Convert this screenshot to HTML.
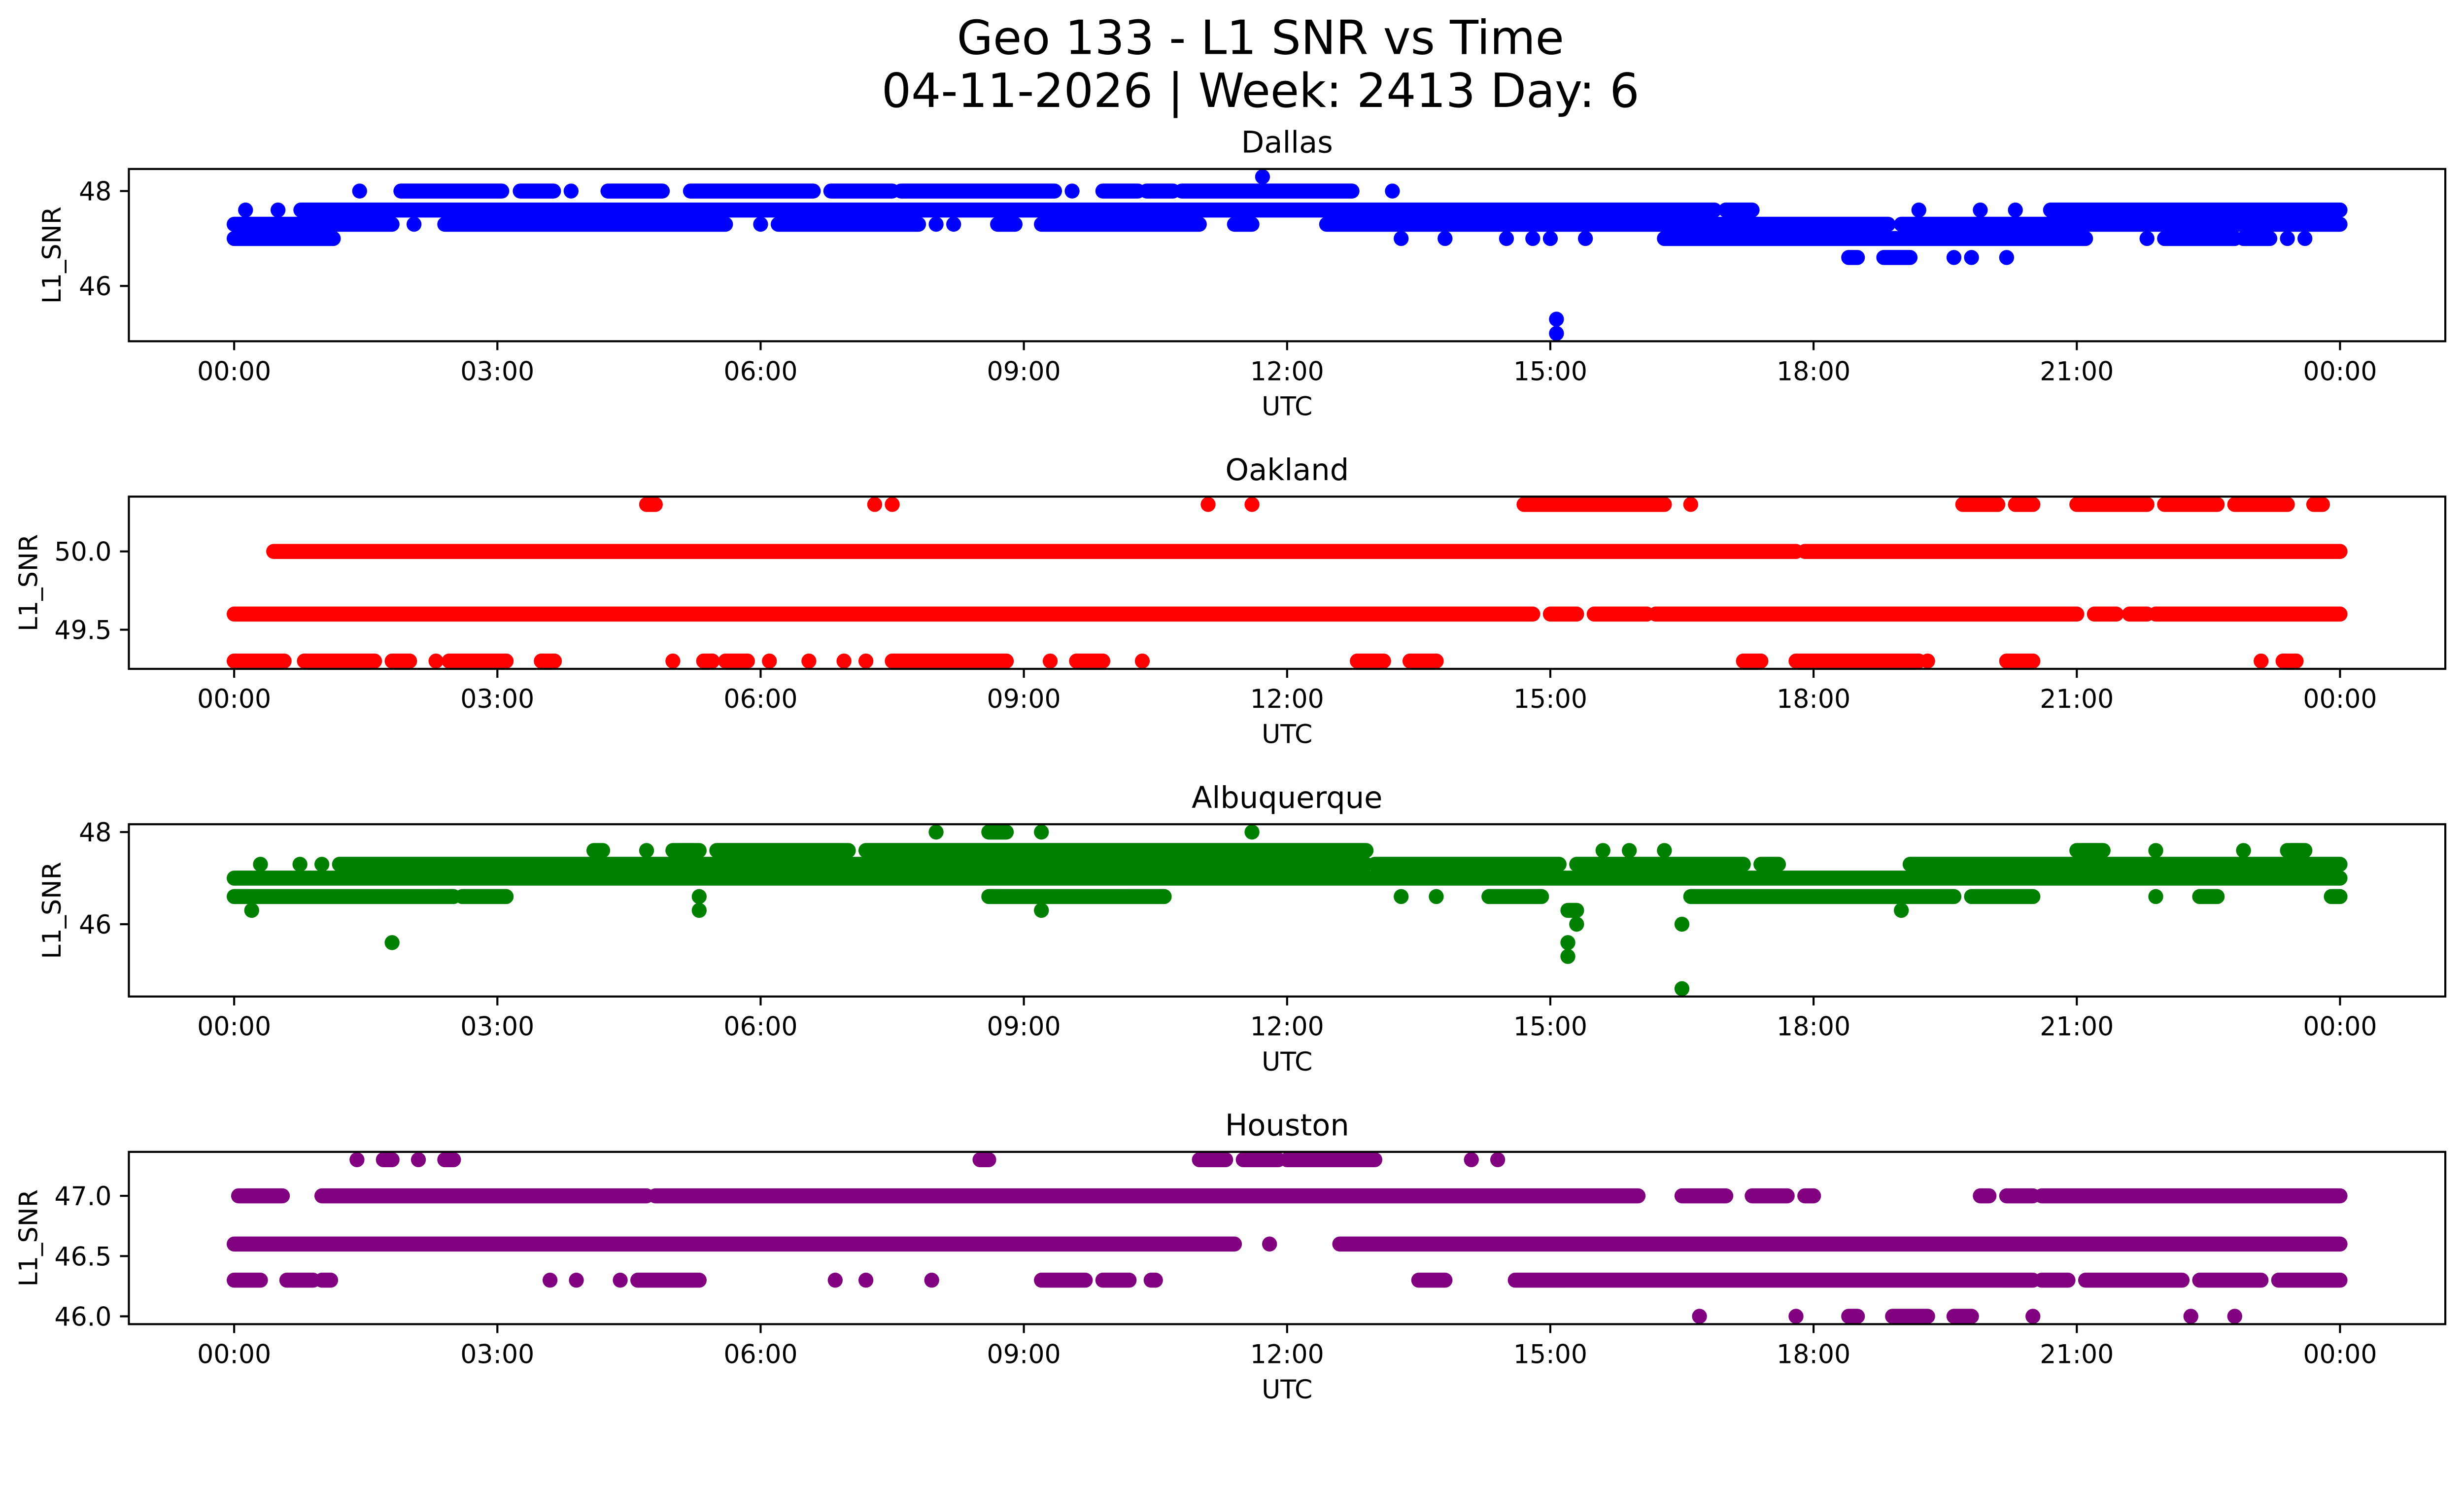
<!DOCTYPE html>
<html><head><meta charset="utf-8"><style>
html,body{margin:0;padding:0;background:#fff;width:100%;height:100%;overflow:hidden}
svg{display:block;font-family:"DejaVu Sans","Liberation Sans",sans-serif;width:100vw;height:100vh}
</style></head><body>
<svg id="chart" viewBox="0 0 5278 3185" preserveAspectRatio="none" xmlns="http://www.w3.org/2000/svg">
<rect width="5278" height="3185" fill="#fff"/>
<text x="2700" y="115" font-size="100" text-anchor="middle">Geo 133 - L1 SNR vs Time</text>
<text x="2700" y="228" font-size="100" text-anchor="middle">04-11-2026 | Week: 2413 Day: 6</text>
<g id="panels"></g>
</svg>
<script>
// x ticks (hours) and labels
const xTickHours = [0,3,6,9,12,15,18,21,24];
const xTickLabels = ["00:00","03:00","06:00","09:00","12:00","15:00","18:00","21:00","00:00"];
const stationNames = ["Dallas","Oakland","Albuquerque","Houston"];
const stationColors = ["#0000ff","#ff0000","#008000","#800080"];
const yTicksDallas = [46,48];
const yTickLabelsDallas = ["46","48"];
const yTicksOakland = [49.5,50.0];
const yTickLabelsOakland = ["49.5","50.0"];
const yTicksAlbuquerque = [46,48];
const yTickLabelsAlbuquerque = ["46","48"];
const yTicksHouston = [46.0,46.5,47.0];
const yTickLabelsHouston = ["46.0","46.5","47.0"];

// segments: [level, startHour, endHour] (dense runs of samples)
const dallasSegs = [
 [47.3,0,1.8],[47.3,2.05,2.05],[47.3,2.4,5.6],[47.3,6.0,6.0],[47.3,6.2,7.8],[47.3,8.0,8.0],[47.3,8.2,8.2],[47.3,8.7,8.9],[47.3,9.2,11.0],[47.3,11.4,11.6],[47.3,12.45,18.85],[47.3,19.0,24.0],
 [47.6,0.13,0.13],[47.6,0.5,0.5],[47.6,0.76,16.87],[47.6,17.0,17.3],[47.6,19.2,19.2],[47.6,19.9,19.9],[47.6,20.3,20.3],[47.6,20.7,24.0],
 [48.0,1.43,1.43],[48.0,1.9,3.05],[48.0,3.26,3.64],[48.0,3.84,3.84],[48.0,4.26,4.88],[48.0,5.2,6.6],[48.0,6.8,7.5],[48.0,7.6,9.35],[48.0,9.55,9.55],[48.0,9.9,10.3],[48.0,10.4,10.7],[48.0,10.8,12.74],[48.0,13.2,13.2],
 [47.0,0,1.13],[47.0,13.3,13.3],[47.0,13.8,13.8],[47.0,14.5,14.5],[47.0,14.8,14.8],[47.0,15.0,15.0],[47.0,15.4,15.4],[47.0,16.3,21.1],[47.0,21.8,21.8],[47.0,22.0,22.8],[47.0,22.9,23.2],[47.0,23.4,23.4],[47.0,23.6,23.6],
 [46.6,18.4,18.5],[46.6,18.8,19.1],[46.6,19.6,19.6],[46.6,19.8,19.8],[46.6,20.2,20.2],
 [45.3,15.07,15.07],[45.0,15.07,15.07],[48.3,11.72,11.72]
];
const oaklandSegs = [
 [49.6,0,14.8],[49.6,15.0,15.3],[49.6,15.5,16.1],[49.6,16.2,21.0],[49.6,21.2,21.45],[49.6,21.6,21.8],[49.6,21.9,24.0],
 [50.0,0.45,17.8],[50.0,17.9,24.0],
 [50.3,4.7,4.8],[50.3,7.3,7.3],[50.3,7.5,7.5],[50.3,11.1,11.1],[50.3,11.6,11.6],[50.3,14.7,16.3],[50.3,16.6,16.6],[50.3,19.7,20.1],[50.3,20.3,20.5],[50.3,21.0,21.8],[50.3,22.0,22.6],[50.3,22.8,23.4],[50.3,23.7,23.8],
 [49.3,0,0.57],[49.3,0.8,1.6],[49.3,1.8,2.0],[49.3,2.3,2.3],[49.3,2.45,3.1],[49.3,3.5,3.65],[49.3,5.0,5.0],[49.3,5.35,5.45],[49.3,5.6,5.85],[49.3,6.1,6.1],[49.3,6.55,6.55],[49.3,6.95,6.95],[49.3,7.2,7.2],[49.3,7.5,8.8],[49.3,9.3,9.3],[49.3,9.6,9.9],[49.3,10.35,10.35],[49.3,12.8,13.1],[49.3,13.4,13.7],[49.3,17.2,17.4],[49.3,17.8,19.2],[49.3,19.3,19.3],[49.3,20.2,20.5],[49.3,23.1,23.1],[49.3,23.35,23.5]
];
const albuquerqueSegs = [
 [47.0,0,24.0],
 [47.3,0.3,0.3],[47.3,0.75,0.75],[47.3,1.0,1.0],[47.3,1.2,12.9],[47.3,13.0,15.1],[47.3,15.3,17.2],[47.3,17.4,17.6],[47.3,19.1,24.0],
 [46.6,0,2.5],[46.6,2.6,3.1],[46.6,5.3,5.3],[46.6,8.6,10.6],[46.6,13.3,13.3],[46.6,13.7,13.7],[46.6,14.3,14.9],[46.6,16.6,19.6],[46.6,19.8,20.5],[46.6,21.9,21.9],[46.6,22.4,22.6],[46.6,23.9,24.0],
 [47.6,4.1,4.2],[47.6,4.7,4.7],[47.6,5.0,5.3],[47.6,5.5,7.0],[47.6,7.2,12.9],[47.6,15.6,15.6],[47.6,15.9,15.9],[47.6,16.3,16.3],[47.6,21.0,21.3],[47.6,21.9,21.9],[47.6,22.9,22.9],[47.6,23.4,23.6],
 [48.0,8.0,8.0],[48.0,8.6,8.8],[48.0,9.2,9.2],[48.0,11.6,11.6],
 [46.3,0.2,0.2],[46.3,5.3,5.3],[46.3,9.2,9.2],[46.3,19.0,19.0],[46.3,15.2,15.3],
 [45.6,1.8,1.8],[45.6,15.2,15.2],[46.0,15.3,15.3],[46.0,16.5,16.5],[45.3,15.2,15.2],[44.6,16.5,16.5]
];
const houstonSegs = [
 [46.6,0,11.4],[46.6,11.8,11.8],[46.6,12.6,24.0],
 [47.0,0.05,0.55],[47.0,1.0,4.7],[47.0,4.8,16.0],[47.0,16.5,17.0],[47.0,17.3,17.7],[47.0,17.9,18.0],[47.0,19.9,20.0],[47.0,20.2,20.5],[47.0,20.6,24.0],
 [47.3,1.4,1.4],[47.3,1.7,1.8],[47.3,2.1,2.1],[47.3,2.4,2.5],[47.3,8.5,8.6],[47.3,11.0,11.3],[47.3,11.5,11.9],[47.3,12.0,13.0],[47.3,14.1,14.1],[47.3,14.4,14.4],
 [46.3,0,0.3],[46.3,0.6,0.9],[46.3,1.0,1.1],[46.3,3.6,3.6],[46.3,3.9,3.9],[46.3,4.4,4.4],[46.3,4.6,5.3],[46.3,6.85,6.85],[46.3,7.2,7.2],[46.3,7.95,7.95],[46.3,9.2,9.7],[46.3,9.9,10.2],[46.3,10.45,10.5],[46.3,13.5,13.8],[46.3,14.6,20.5],[46.3,20.6,20.9],[46.3,21.1,22.2],[46.3,22.4,23.1],[46.3,23.3,24.0],
 [46.0,16.7,16.7],[46.0,17.8,17.8],[46.0,18.4,18.5],[46.0,18.9,19.3],[46.0,19.6,19.8],[46.0,20.5,20.5],[46.0,22.3,22.3],[46.0,22.8,22.8]
];

const NS="http://www.w3.org/2000/svg";
const root=document.getElementById('panels');
const axL=276, axR=5238, axH=367, tops=[360,1058,1756,2454];
const xMin=-1.2, xMax=25.2, R=16;
function xScale(h){return axL+(h-xMin)/(xMax-xMin)*(axR-axL);}
function mk(tag,attrs,parent){const e=document.createElementNS(NS,tag);for(const k in attrs)e.setAttribute(k,attrs[k]);parent.appendChild(e);return e;}
function yRangeOf(segs){let lo=Infinity,hi=-Infinity;segs.forEach(s=>{lo=Math.min(lo,s[0]);hi=Math.max(hi,s[0]);});const m=(hi-lo)*0.05;return [lo-m,hi+m];}

const allSegs=[dallasSegs,oaklandSegs,albuquerqueSegs,houstonSegs];
const allYTicks=[yTicksDallas,yTicksOakland,yTicksAlbuquerque,yTicksHouston];
const allYLabels=[yTickLabelsDallas,yTickLabelsOakland,yTickLabelsAlbuquerque,yTickLabelsHouston];
const ylabelX=[112,62,112,62];

allSegs.forEach((segs,i)=>{
  const top=tops[i], bot=top+axH;
  const [y0,y1]=yRangeOf(segs);
  const yScale=v=>bot-(v-y0)/(y1-y0)*axH;
  const g=mk('g',{},root);
  
  
  const clip=mk('clipPath',{id:'clip'+i},g);
  mk('rect',{x:axL,y:top,width:axR-axL,height:axH},clip);
  const marks=mk('g',{'clip-path':'url(#clip'+i+')'},g);
  
  
  segs.forEach(s=>{
    const x1=xScale(s[1]), x2=xScale(s[2]), y=yScale(s[0]);
    let el;
    if(s[2]>s[1]){
      el=mk('line',{x1:x1,y1:y,x2:x2,y2:y,stroke:stationColors[i],'stroke-width':2*R,'stroke-linecap':'round'},marks);
    } else {
      el=mk('circle',{cx:x1,cy:y,r:R,fill:stationColors[i]},marks);
    }
    
    
  });
  const frame=mk('rect',{x:axL,y:top,width:axR-axL,height:axH,fill:'none',stroke:'#000','stroke-width':4.4},g);
  
  
  xTickHours.forEach((h,k)=>{
    const x=xScale(h);
    const t=mk('line',{x1:x,y1:bot,x2:x,y2:bot+19,stroke:'#000','stroke-width':4.4},g);
    
    
    const lb=mk('text',{x:x,y:bot+83,'font-size':55,'text-anchor':'middle'},g);
    lb.textContent=xTickLabels[k];
    
    
  });
  allYTicks[i].forEach((v,k)=>{
    const y=yScale(v);
    const t=mk('line',{x1:axL-19,y1:y,x2:axL,y2:y,stroke:'#000','stroke-width':4.4},g);
    
    
    const lb=mk('text',{x:axL-37,y:y+20,'font-size':55,'text-anchor':'end'},g);
    lb.textContent=allYLabels[i][k];
    
    
  });
  const xl=mk('text',{x:(axL+axR)/2,y:bot+158,'font-size':55,'text-anchor':'middle'},g);
  xl.textContent='UTC';
  
  
  const cy=top+axH/2;
  const yl=mk('text',{x:ylabelX[i],y:cy,'font-size':55,'text-anchor':'middle',transform:'rotate(-90 '+ylabelX[i]+' '+cy+')','dominant-baseline':'central'},g);
  yl.textContent='L1_SNR';
  
  
  const tt=mk('text',{x:(axL+axR)/2,y:top-35,'font-size':64,'text-anchor':'middle'},g);
  tt.textContent=stationNames[i];
  
  
});
</script>
</body></html>
